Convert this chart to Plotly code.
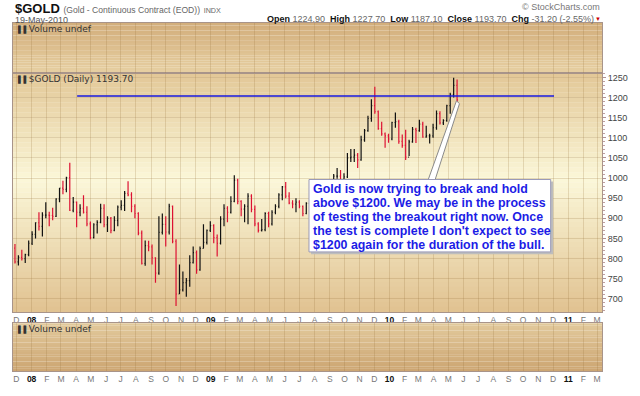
import plotly.graph_objects as go
import pandas as pd

# ---- weekly OHLC (Gold continuous contract) ----
opens = [826, 792, 803, 800, 810, 838,
         860, 889, 880, 908, 908, 907, 905, 948, 975, 972, 1001, 920, 940, 915,
         925, 915, 886, 852, 884, 890, 925, 884, 900, 870, 895, 928, 932, 962,
         958, 930, 912, 863, 788, 832, 829, 802, 764, 865, 885, 866, 930, 843,
         712, 722, 740, 745, 790, 815, 772, 825, 840, 870,
         882, 852, 838, 898, 925, 915, 942, 995, 942, 923, 930, 955, 922, 886,
         870, 872, 912, 886, 915, 930, 958, 978, 955, 938, 935, 940, 930, 912,
         937, 954, 955, 955, 950, 945, 955, 996, 1005, 1005, 992, 1003, 1050,
         1052, 1057, 1045, 1095, 1118, 1148, 1180, 1165, 1123, 1110, 1105,
         1097, 1138, 1140, 1091, 1081, 1052, 1090, 1121, 1118, 1134, 1102, 1105,
         1105, 1125, 1160, 1137, 1143, 1180, 1207, 1230]
highs = [836, 808, 822, 812, 845, 868,
         890, 915, 915, 940, 916, 926, 950, 975, 993, 1003, 1038, 953, 942, 935,
         957, 930, 892, 888, 895, 936, 935, 905, 903, 905, 932, 945, 968, 992,
         965, 935, 915, 870, 845, 844, 835, 803, 905, 912, 905, 936, 932, 848,
         785, 768, 752, 808, 830, 820, 830, 885, 872, 893,
         885, 860, 905, 935, 930, 955, 1007, 998, 945, 935, 962, 960, 932, 890,
         898, 915, 916, 920, 935, 962, 980, 990, 965, 945, 950, 945, 932, 940,
         960, 958, 970, 960, 950, 958, 997, 1010, 1025, 1020, 1012, 1062, 1072,
         1072, 1062, 1105, 1122, 1155, 1196, 1227, 1168, 1140, 1113, 1110,
         1140, 1163, 1145, 1108, 1120, 1095, 1127, 1125, 1145, 1140, 1130, 1110,
         1135, 1168, 1166, 1146, 1182, 1212, 1249, 1245]
lows = [788, 783, 795, 789, 806, 834,
        850, 870, 855, 900, 880, 895, 903, 940, 960, 965, 918, 915, 878, 905,
        912, 880, 848, 850, 862, 888, 878, 866, 863, 868, 880, 920, 918, 955,
        915, 900, 858, 785, 782, 818, 785, 740, 760, 860, 830, 860, 838, 682,
        712, 718, 705, 730, 788, 762, 770, 825, 835, 866,
        838, 805, 835, 880, 890, 912, 940, 935, 905, 890, 885, 915, 880, 865,
        867, 868, 878, 882, 910, 925, 945, 950, 935, 925, 915, 925, 905, 910,
        930, 930, 950, 938, 932, 937, 945, 990, 998, 990, 985, 1000, 1040,
        1040, 1025, 1043, 1090, 1115, 1140, 1160, 1120, 1105, 1075, 1088,
        1094, 1125, 1085, 1075, 1045, 1055, 1088, 1087, 1115, 1100, 1100, 1086,
        1100, 1120, 1133, 1132, 1140, 1160, 1200, 1187]
closes = [792, 803, 800, 810, 838, 860,
          889, 880, 908, 908, 907, 905, 948, 975, 972, 1001, 920, 940, 915, 925,
          915, 886, 852, 884, 890, 925, 884, 900, 870, 895, 928, 932, 962, 958,
          930, 912, 863, 788, 832, 829, 802, 764, 865, 885, 866, 930, 843, 712,
          722, 740, 745, 790, 815, 772, 825, 840, 870, 882,
          852, 838, 898, 925, 915, 942, 995, 942, 923, 930, 955, 922, 886, 870,
          872, 912, 886, 915, 930, 958, 978, 955, 938, 935, 940, 930, 912, 937,
          954, 955, 955, 950, 945, 955, 996, 1005, 1005, 992, 1003, 1050, 1052,
          1057, 1045, 1095, 1118, 1148, 1180, 1165, 1123, 1110, 1105, 1097,
          1138, 1140, 1091, 1081, 1052, 1090, 1121, 1118, 1134, 1102, 1105, 1105,
          1125, 1160, 1137, 1143, 1180, 1207, 1230, 1194]
bar_dates = pd.date_range("2007-11-28", periods=len(closes), freq="W-WED")

month_ticks = list(pd.date_range("2007-12-01", "2011-03-01", freq="MS"))
month_labels = ["D", "08", "F", "M", "A", "M", "J", "J", "A", "S", "O", "N",
                "D", "09", "F", "M", "A", "M", "J", "J", "A", "S", "O", "N",
                "D", "10", "F", "M", "A", "M", "J", "J", "A", "S", "O", "N",
                "D", "11", "F", "M"]
price_ticks = [700, 750, 800, 850, 900, 950, 1000, 1050, 1100, 1150, 1200, 1250]
resistance_level = 1204
resistance_start, resistance_end = "2008-04-03", "2010-12-03"
note_lines = ["Gold is now trying to break and hold",
              "above $1200. We may be in the process",
              "of testing the breakout right now. Once",
              "the test is complete I don't expect to see",
              "$1200 again for the duration of the bull."]

tick_text = [f"<b><span style='color:#111'>{t}</span></b>" if t.isdigit() else t
             for t in month_labels]

fig = go.Figure()
fig.add_trace(go.Ohlc(
    x=bar_dates, open=opens, high=highs, low=lows, close=closes,
    increasing=dict(line=dict(color="#111111", width=1.2)),
    decreasing=dict(line=dict(color="#dd1133", width=1.2)),
    tickwidth=0.25, xaxis="x", yaxis="y", hoverinfo="skip", showlegend=False))
# invisible traces to create the volume panels
fig.add_trace(go.Scatter(x=[bar_dates[0]], y=[0.5], mode="markers",
                         marker=dict(opacity=0), xaxis="x2", yaxis="y2",
                         showlegend=False, hoverinfo="skip"))
fig.add_trace(go.Scatter(x=[bar_dates[0]], y=[0.5], mode="markers",
                         marker=dict(opacity=0), xaxis="x3", yaxis="y3",
                         showlegend=False, hoverinfo="skip"))

XR = ["2007-11-24", "2011-03-11"]
FRAME = "#a8948a"
GRID = "rgba(150,115,60,0.22)"
price_dom = [0.1704, 0.8575]
top_dom = [0.8575, 1.0]
bot_dom = [0.0, 0.1369]

common_x = dict(type="date", range=XR, tickmode="array", tickvals=month_ticks,
                showgrid=True, gridcolor=GRID, gridwidth=1, showline=True,
                linecolor=FRAME, mirror=True, ticks="", zeroline=False,
                rangeslider=dict(visible=False), fixedrange=True)

fig.update_layout(
    width=640, height=396,
    margin=dict(l=13, r=36, t=23, b=15),
    paper_bgcolor="white", plot_bgcolor="rgba(0,0,0,0)",
    font=dict(family="Liberation Sans, Arial, sans-serif", size=9, color="#555"),
    xaxis=dict(**common_x, anchor="y", ticktext=tick_text, showticklabels=True,
               tickfont=dict(size=8.5, color="#777")),
    xaxis2=dict(**common_x, anchor="y2", showticklabels=False, matches="x"),
    xaxis3=dict(**common_x, anchor="y3", ticktext=tick_text, showticklabels=True,
                tickfont=dict(size=8.5, color="#777"), matches="x"),
    yaxis=dict(domain=price_dom, range=[668, 1262], side="right",
               tickmode="array", tickvals=price_ticks,
               showgrid=True, gridcolor=GRID, showline=True, linecolor=FRAME,
               mirror=True, ticks="outside", ticklen=3, tickcolor="#b09090",
               minor=dict(dtick=10, ticks="outside", ticklen=2, tickcolor="#c0a0a0",
                          showgrid=False),
               tickfont=dict(size=9, color="#444"), zeroline=False, fixedrange=True),
    yaxis2=dict(domain=top_dom, range=[0, 1], showgrid=False, showticklabels=False,
                showline=True, linecolor=FRAME, mirror=True, zeroline=False,
                ticks="", fixedrange=True),
    yaxis3=dict(domain=bot_dom, range=[0, 1], showgrid=False, showticklabels=False,
                showline=True, linecolor=FRAME, mirror=True, zeroline=False,
                ticks="", fixedrange=True),
)


# ---- background gradients (style only) ----
def hex2rgb(h):
    h = h.lstrip("#")
    return [int(h[i:i + 2], 16) for i in (0, 2, 4)]


def interp(stops, f):
    for (f0, c0), (f1, c1) in zip(stops, stops[1:]):
        if f0 <= f <= f1:
            t = 0 if f1 == f0 else (f - f0) / (f1 - f0)
            a, b = hex2rgb(c0), hex2rgb(c1)
            return "rgb(%d,%d,%d)" % tuple(round(a[i] + (b[i] - a[i]) * t) for i in range(3))
    return stops[-1][1]


shapes = []


def gradient(dom, stops, n=36):
    y0, y1 = dom
    h = (y1 - y0) / n
    for i in range(n):
        top = y1 - i * h
        shapes.append(dict(type="rect", xref="paper", yref="paper", x0=0, x1=1,
                           y0=top - h * 1.05, y1=top, line=dict(width=0),
                           fillcolor=interp(stops, (i + 0.5) / n), layer="below"))


gradient(top_dom, [(0, "#d3ae7b"), (1, "#e6cfa2")], 20)
gradient(price_dom, [(0, "#e2c796"), (0.45, "#fbf7d8"), (1, "#e0c291")], 48)
gradient(bot_dom, [(0, "#e2c99b"), (1, "#cca572")], 20)

# resistance line
shapes.append(dict(type="line", xref="x", yref="y", x0=resistance_start,
                   x1=resistance_end, y0=resistance_level, y1=resistance_level,
                   line=dict(color="#1a1ae0", width=1.5), layer="above"))


def px(x):
    return (x - 13) / 591


def py(y):
    return (381 - y) / 358


# callout wedge
shapes.append(dict(type="path", xref="paper", yref="paper",
                   path=f"M {px(429)} {py(186)} L {px(458)} {py(103)} "
                        f"L {px(461)} {py(106)} L {px(436)} {py(186)} Z",
                   fillcolor="white", line=dict(color="#8a8a8a", width=1),
                   layer="above"))
# callout shadow + box
shapes.append(dict(type="rect", xref="paper", yref="paper", x0=px(312), x1=px(555),
                   y0=py(261), y1=py(186), fillcolor="#bdbdbd",
                   line=dict(width=0), layer="above"))
shapes.append(dict(type="rect", xref="paper", yref="paper", x0=px(310), x1=px(552.5),
                   y0=py(258.5), y1=py(184), fillcolor="white",
                   line=dict(color="#9a9ab8", width=1), layer="above"))
fig.update_layout(shapes=shapes)

ann = []
ann.append(dict(xref="paper", yref="paper", x=0, y=py(8.5), xanchor="left",
                yanchor="middle", showarrow=False,
                text="<b>$GOLD</b> <span style='font-size:8.6px;color:#666'>"
                     "(Gold - Continuous Contract (EOD))</span> "
                     "<span style='font-size:7.2px;color:#666'>INDX</span>",
                font=dict(size=13, color="#111")))
ann.append(dict(xref="paper", yref="paper", x=0, y=py(19.5), xanchor="left",
                yanchor="middle", showarrow=False, text="19-May-2010",
                font=dict(size=9, color="#555")))
ann.append(dict(xref="paper", yref="paper", x=px(598), y=py(18.5), xanchor="right",
                yanchor="middle", showarrow=False,
                text="<b>Open</b> <span style='color:#666'>1224.90</span>  "
                     "<b>High</b> <span style='color:#666'>1227.70</span>  "
                     "<b>Low</b> <span style='color:#666'>1187.10</span>  "
                     "<b>Close</b> <span style='color:#666'>1193.70</span>  "
                     "<b>Chg</b> <span style='color:#666'>-31.20 (-2.55%)</span>",
                font=dict(size=9, color="#111")))
ann.append(dict(xref="paper", yref="paper", x=px(605), y=py(18.5), xanchor="right",
                yanchor="middle", showarrow=False, text="▼",
                font=dict(size=6, color="#cc0000")))
ann.append(dict(xref="paper", yref="paper", x=px(604), y=py(7), xanchor="right",
                yanchor="middle", showarrow=False, text="© StockCharts.com",
                font=dict(size=9, color="#777")))
for yy, label in [(29, "Volume undef"), (80.5, "$GOLD (Daily) 1193.70"),
                  (338, "Volume undef")]:
    ann.append(dict(xref="paper", yref="paper", x=px(15), y=py(yy), xanchor="left",
                    yanchor="middle", showarrow=False,
                    text="<span style='font-size:7px'>▌▌</span>" + label,
                    font=dict(family="DejaVu Sans", size=9, color="#333")))
for i, line in enumerate(note_lines):
    ann.append(dict(xref="paper", yref="paper", x=px(312.5), y=py(193.5 + 14.4 * i),
                    xanchor="left", yanchor="middle", showarrow=False,
                    text=f"<b>{line}</b>",
                    font=dict(family="Liberation Sans, Arial", size=12.4,
                              color="#1c1ce6")))
fig.update_layout(annotations=ann)

fig.write_html("out.html", config={"displayModeBar": False},
               post_script="document.body.style.margin='0';"
                           "document.body.style.overflow='hidden';")
